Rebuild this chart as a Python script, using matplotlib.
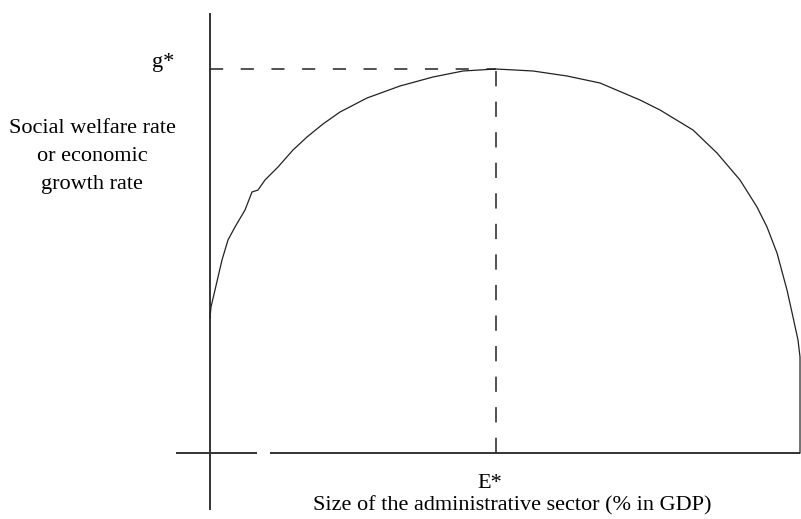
import matplotlib.pyplot as plt

# schematic curve (x: size of admin sector, y: rate)
curve_x = [0, 1, 5, 12, 18, 25, 35, 42, 48, 55, 68, 83, 97, 113, 130, 157,
           190, 223, 253, 286, 323, 357, 390, 430, 450, 483, 507, 530, 547,
           557, 567, 577, 583, 588, 590, 590]
curve_y = [135, 146, 163, 193, 213, 226, 243, 261, 263, 273, 286, 303, 316,
           329, 341, 355, 367, 376, 382, 384, 382, 377, 370, 353, 343, 323,
           300, 273, 246, 226, 200, 163, 136, 113, 96, 0]

e_star = 286
g_star = 384

y_label_lines = ['Social welfare rate', 'or economic', 'growth rate']
x_label = 'Size of the administrative sector (% in GDP)'

fig = plt.figure(figsize=(8.01, 5.19), dpi=100)
ax = fig.add_axes([0, 0, 1, 1])
ax.set_xlim(-210, 591)
ax.set_ylim(-66, 453)
ax.axis('off')

serif = 'Liberation Serif'
fs = 16

# axes drawn by hand (the x axis has a small break near the origin)
ax.plot([0, 0], [-57, 440], color='#333333', lw=1.4, solid_capstyle='butt')
ax.plot([-34, 47], [0, 0], color='#333333', lw=1.4, solid_capstyle='butt')
ax.plot([60, 590], [0, 0], color='#333333', lw=1.4, solid_capstyle='butt')

ax.plot(curve_x, curve_y, color='#222222', lw=0.9)

ax.plot([0, e_star], [g_star, g_star], color='#222222', lw=1.1,
        dashes=(8.6, 11.5))
ax.plot([e_star, e_star], [0, g_star], color='#222222', lw=1.1,
        dashes=(10, 10))

ax.text(-47, g_star + 6, 'g*', fontsize=fs, family=serif, ha='center', va='center')
for i, line in enumerate(y_label_lines):
    ax.text(-118, 320 - 28 * i, line, fontsize=fs, family=serif,
            ha='center', va='baseline')
ax.text(e_star - 6, -35, 'E*', fontsize=fs, family=serif, ha='center', va='baseline')
ax.text(302, -57, x_label, fontsize=fs, family=serif, ha='center', va='baseline')

fig.savefig('out.png', dpi=100)
